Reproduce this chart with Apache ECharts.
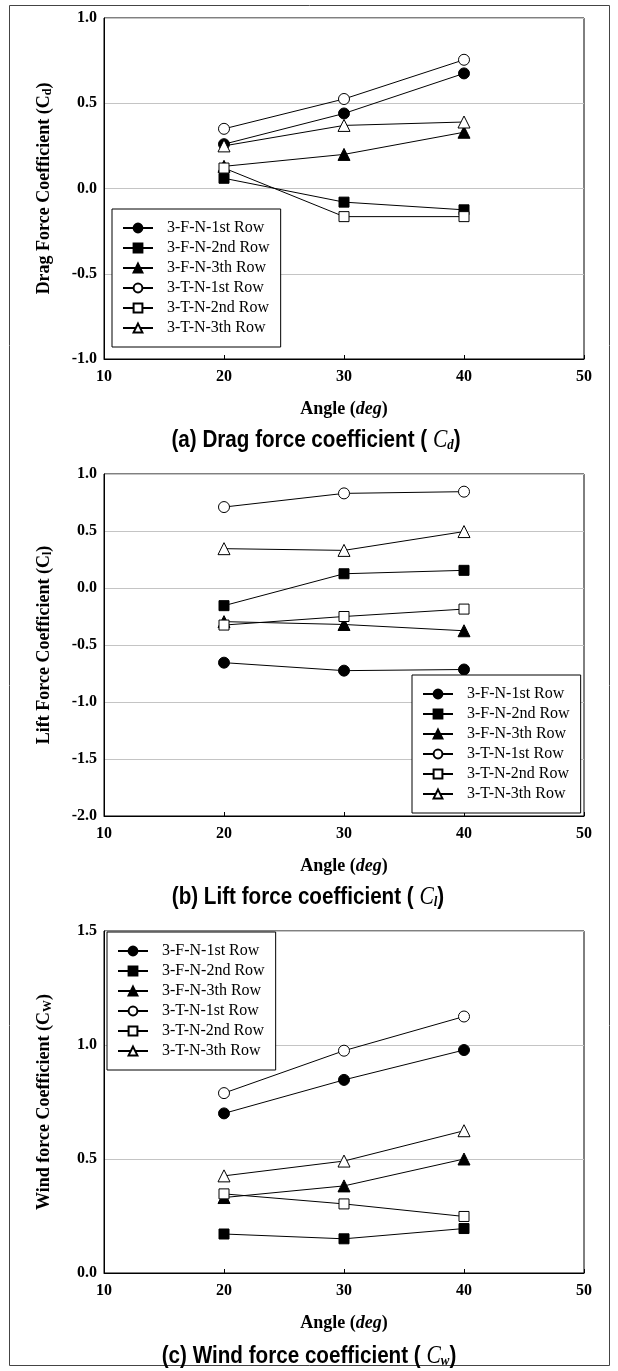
<!DOCTYPE html>
<html>
<head>
<meta charset="UTF-8">
<title>Force coefficients</title>
<script src="https://cdn.jsdelivr.net/npm/echarts@6/dist/echarts.min.js"></script>
<style>
  html, body { margin: 0; padding: 0; background: #fff; }
  #main { width: 618px; height: 1371px; }
</style>
</head>
<body>
<div id="main"></div>
<script type="text/javascript">
// angles (deg)
var angles = [20, 30, 40];
var names = ['3-F-N-1st Row', '3-F-N-2nd Row', '3-F-N-3th Row',
             '3-T-N-1st Row', '3-T-N-2nd Row', '3-T-N-3th Row'];

// (a) drag force coefficient
var cdF1 = [0.26, 0.44, 0.675];
var cdF2 = [0.06, -0.08, -0.125];
var cdF3 = [0.13, 0.20, 0.33];
var cdT1 = [0.35, 0.525, 0.755];
var cdT2 = [0.12, -0.165, -0.165];
var cdT3 = [0.25, 0.37, 0.39];

// (b) lift force coefficient
var clF1 = [-0.655, -0.725, -0.715];
var clF2 = [-0.155, 0.125, 0.155];
var clF3 = [-0.295, -0.32, -0.375];
var clT1 = [0.71, 0.83, 0.845];
var clT2 = [-0.325, -0.25, -0.185];
var clT3 = [0.345, 0.33, 0.495];

// (c) wind force coefficient
var cwF1 = [0.70, 0.847, 0.978];
var cwF2 = [0.171, 0.150, 0.195];
var cwF3 = [0.331, 0.382, 0.50];
var cwT1 = [0.789, 0.975, 1.125];
var cwT2 = [0.347, 0.303, 0.248];
var cwT3 = [0.426, 0.491, 0.624];

var cdAll = [cdF1, cdF2, cdF3, cdT1, cdT2, cdT3];
var clAll = [clF1, clF2, clF3, clT1, clT2, clT3];
var cwAll = [cwF1, cwF2, cwF3, cwT1, cwT2, cwT3];

var symbols = ['circle', 'rect', 'triangle', 'circle', 'rect', 'triangle'];
var filled  = [true, true, true, false, false, false];
var symSize = {circle: 11, rect: 10, triangle: 12};

var serif = '"Liberation Serif", "Times New Roman", serif';

var myChart = echarts.init(document.getElementById('main'));

function pairs(ys) {
  var out = [];
  for (var i = 0; i < angles.length; i++) out.push([angles[i], ys[i]]);
  return out;
}

var series = [];
[cdAll, clAll, cwAll].forEach(function (group, g) {
  for (var k = 0; k < group.length; k++) {
    series.push({
      name: names[k],
      type: 'line',
      xAxisIndex: g,
      yAxisIndex: g,
      data: pairs(group[k]),
      symbol: symbols[k],
      symbolSize: symSize[symbols[k]],
      showAllSymbol: true,
      lineStyle: { color: '#000', width: 1 },
      itemStyle: {
        color: filled[k] ? '#000' : '#fff',
        borderColor: '#000',
        borderWidth: 1
      },
      emphasis: { disabled: true },
      z: 3
    });
  }
});

function xAxisOpt(g) {
  return {
    type: 'value', gridIndex: g, min: 10, max: 50, interval: 10,
    name: '{b|Angle (}{i|deg}{b|)}',
    nameLocation: 'middle', nameGap: 41,
    nameTextStyle: {
      rich: {
        b: { fontFamily: serif, fontWeight: 'bold', fontSize: 18, color: '#000' },
        i: { fontFamily: serif, fontWeight: 'bold', fontStyle: 'italic', fontSize: 18, color: '#000' }
      }
    },
    axisLine: { onZero: false, lineStyle: { color: '#000', width: 1 } },
    axisTick: { inside: true, length: 4, lineStyle: { color: '#000' } },
    axisLabel: { margin: 10, fontFamily: serif, fontWeight: 'bold', fontSize: 16, color: '#000' },
    splitLine: { show: false }
  };
}

function yAxisOpt(g, mn, mx, label, sub) {
  return {
    type: 'value', gridIndex: g, min: mn, max: mx, interval: 0.5,
    name: '{b|' + label + ' (C}{s|' + sub + '}{b|)}',
    nameLocation: 'middle', nameGap: 50, nameRotate: 90,
    nameTextStyle: {
      rich: {
        b: { fontFamily: serif, fontWeight: 'bold', fontSize: 18, color: '#000' },
        s: { fontFamily: serif, fontWeight: 'bold', fontSize: 12, color: '#000', padding: [8, 0, 0, 0] }
      }
    },
    axisLine: { show: true, onZero: false, lineStyle: { color: '#000', width: 1 } },
    axisTick: { show: false },
    axisLabel: {
      margin: 7, fontFamily: serif, fontWeight: 'bold', fontSize: 16, color: '#000',
      formatter: function (v) { return v.toFixed(1); }
    },
    splitLine: { show: true, lineStyle: { color: '#c4c4c4', width: 1 } }
  };
}

function legendOpt(left, top) {
  return {
    orient: 'vertical', left: left, top: top,
    data: names,
    itemWidth: 30, itemHeight: 11, itemGap: 4,
    padding: [11, 11, 11, 10],
    backgroundColor: '#fff',
    borderColor: '#000', borderWidth: 1,
    selectedMode: false,
    textStyle: { fontFamily: serif, fontSize: 16, color: '#000', padding: [0, 0, 0, 9] }
  };
}

// caption under each panel, condensed bold sans
function caption(cx, y, letter, body, sub) {
  return {
    type: 'text', x: cx, y: y, scaleX: 0.86, scaleY: 1,
    style: {
      text: '{t|(' + letter + ') ' + body + ' ( }{c|C}{s|' + sub + '}{t|)}',
      align: 'center', verticalAlign: 'middle',
      rich: {
        t: { fontFamily: '"Liberation Sans", Arial, sans-serif', fontWeight: 'bold', fontSize: 24, fill: '#000' },
        c: { fontFamily: serif, fontStyle: 'italic', fontSize: 25, fill: '#000' },
        s: { fontFamily: serif, fontStyle: 'italic', fontWeight: 'bold', fontSize: 15, fill: '#000', padding: [10, 0, 0, 0] }
      }
    }
  };
}

var option = {
  animation: false,
  grid: [
    { left: 104, top: 18, width: 480, height: 341, show: true, borderColor: '#000', borderWidth: 1, backgroundColor: 'transparent' },
    { left: 104, top: 474, width: 480, height: 342, show: true, borderColor: '#000', borderWidth: 1, backgroundColor: 'transparent' },
    { left: 104, top: 931, width: 480, height: 342, show: true, borderColor: '#000', borderWidth: 1, backgroundColor: 'transparent' }
  ],
  xAxis: [xAxisOpt(0), xAxisOpt(1), xAxisOpt(2)],
  yAxis: [
    yAxisOpt(0, -1, 1, 'Drag Force Coefficient', 'd'),
    yAxisOpt(1, -2, 1, 'Lift Force Coefficient', 'l'),
    yAxisOpt(2, 0, 1.5, 'Wind force Coefficient', 'W')
  ],
  legend: [legendOpt(112, 209), legendOpt(412, 675), legendOpt(107, 932)],
  graphic: [
    { type: 'rect', shape: { x: 9.5, y: 5.5, width: 600, height: 1360 },
      style: { fill: 'none', stroke: '#444', lineWidth: 1 }, z: 0 },
    caption(316, 440, 'a', 'Drag force coefficient', 'd'),
    caption(308, 897, 'b', 'Lift force coefficient', 'l'),
    caption(309, 1356, 'c', 'Wind force coefficient', 'w')
  ],
  series: series
};

myChart.setOption(option);
</script>
</body>
</html>
